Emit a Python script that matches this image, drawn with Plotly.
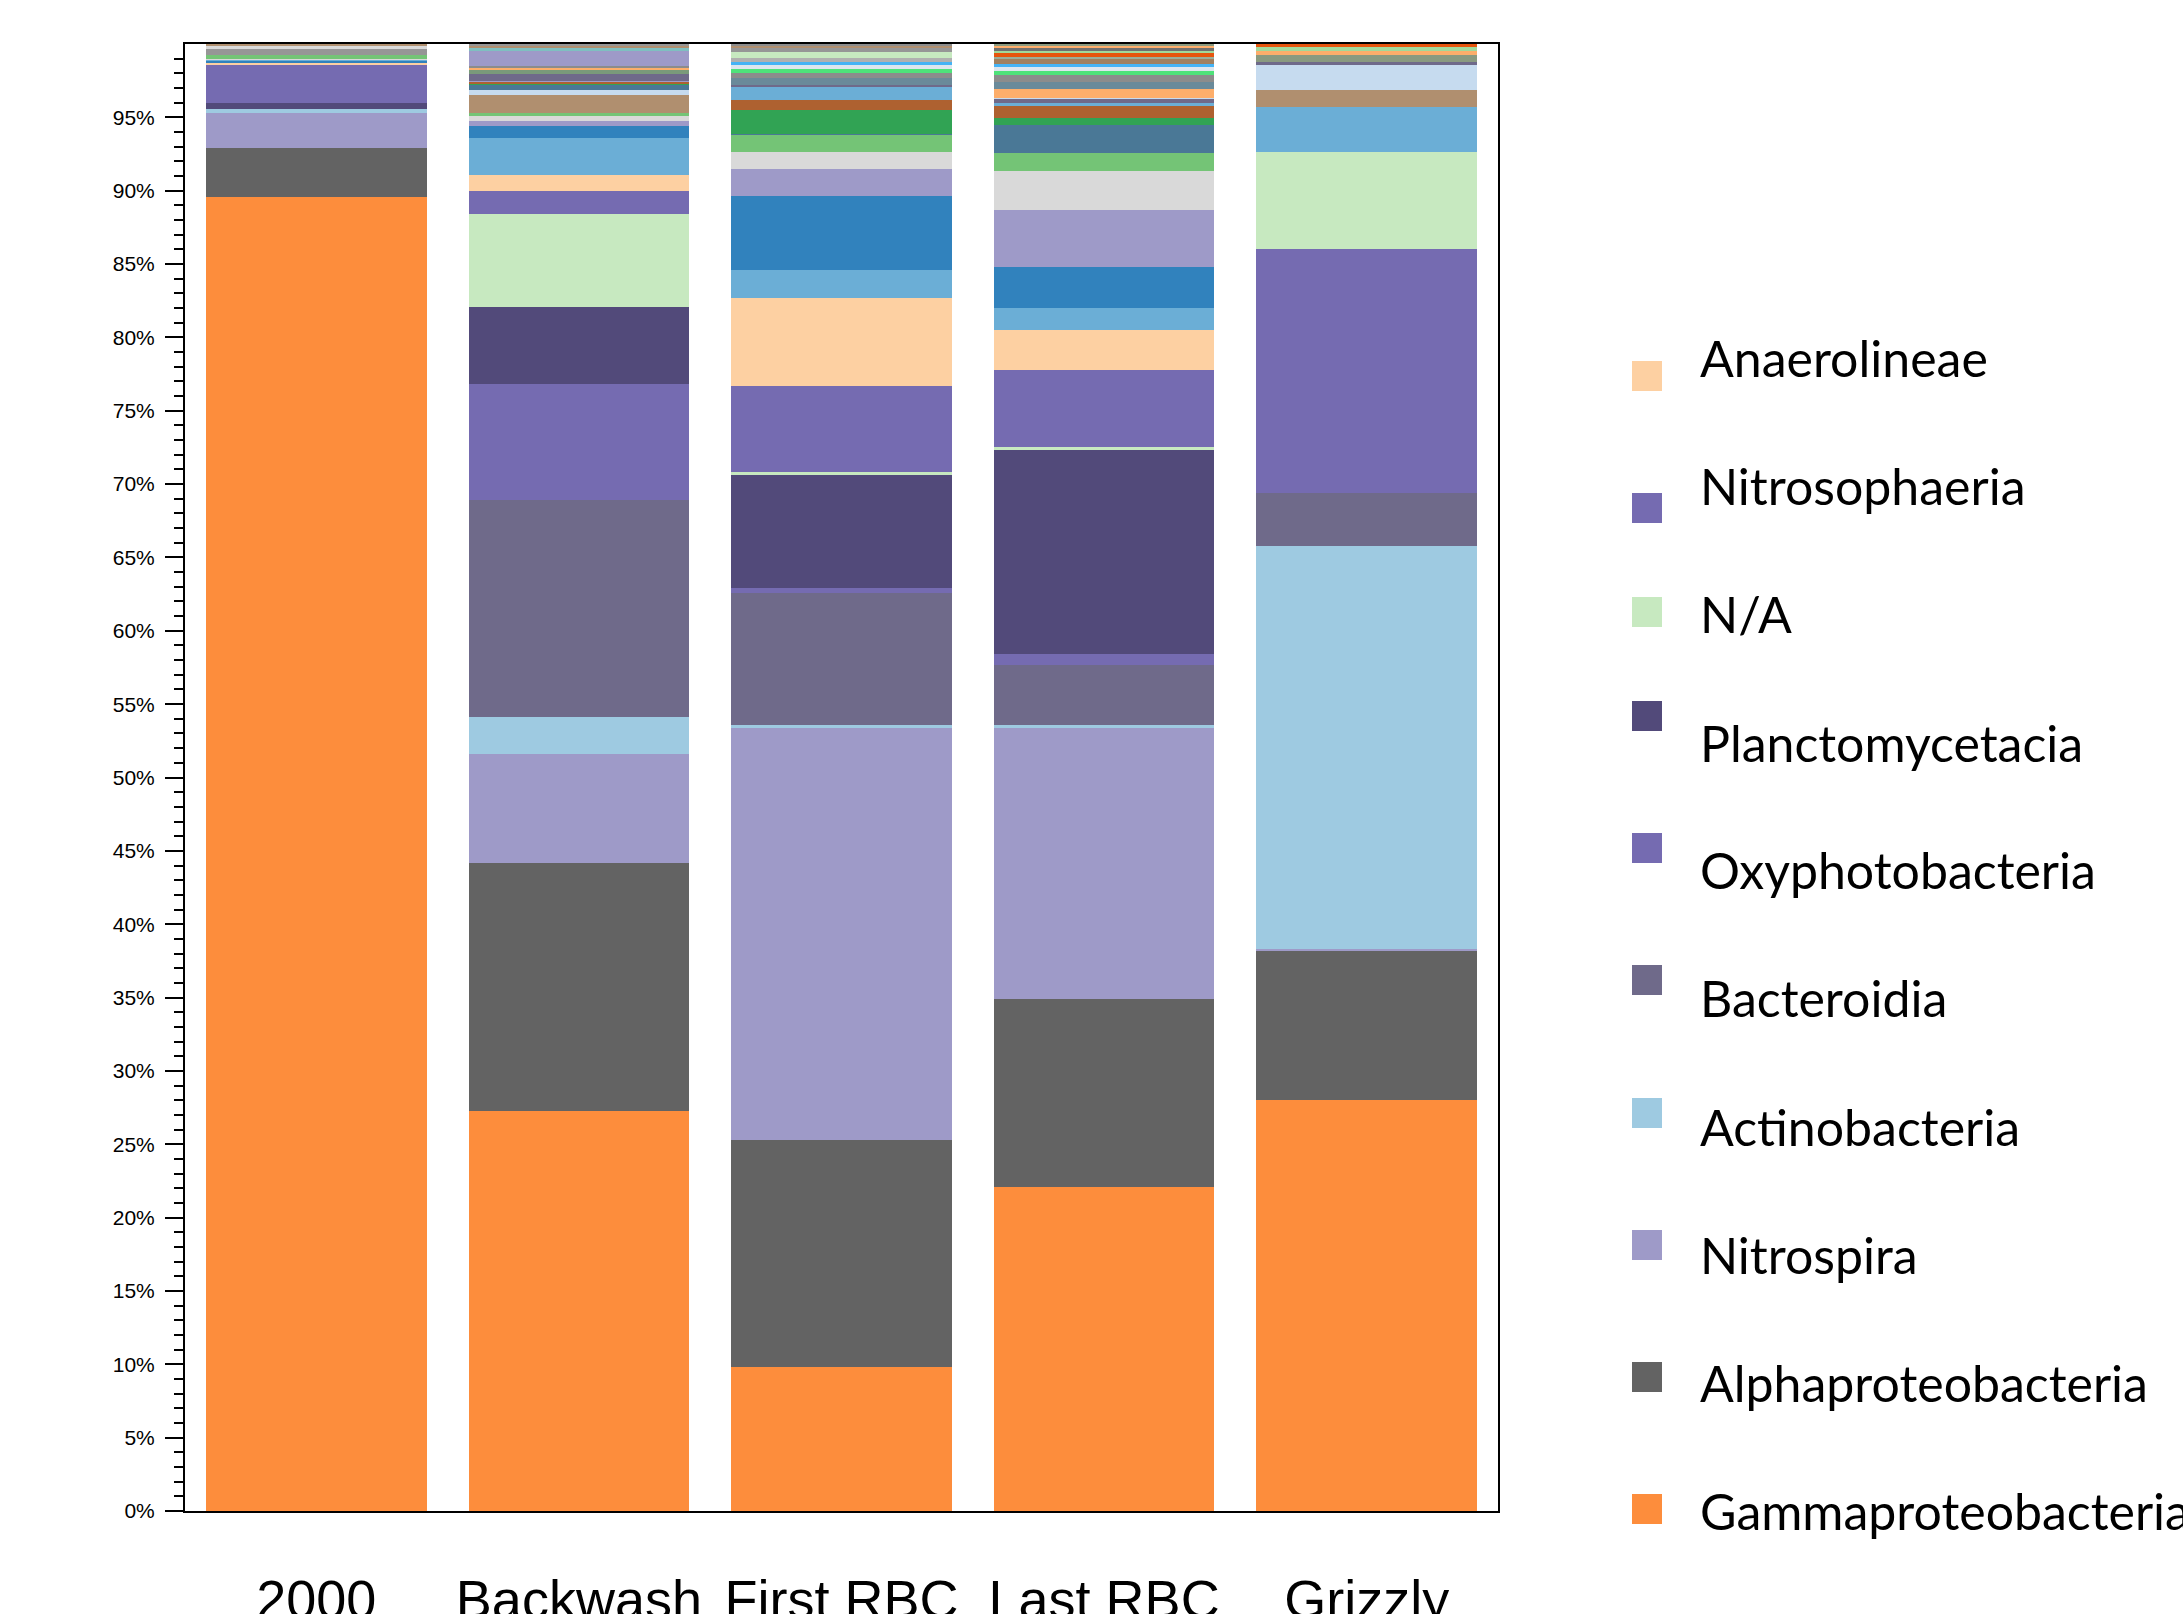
import plotly.graph_objects as go

# Samples along the x axis
samples = ["2000", "Backwash", "First RBC", "Last RBC", "Grizzly"]

# Relative abundance (%) of the main classes, stacked bottom to top
gammaproteobacteria = [89.6, 27.3, 9.8, 22.1, 28.0]
alphaproteobacteria = [3.3, 16.9, 15.5, 12.8, 10.2]
nitrospira = [2.4, 7.4, 28.1, 18.5, 0.1]
actinobacteria = [0.3, 2.5, 0.2, 0.2, 27.5]
bacteroidia = [0.0, 14.8, 9.0, 4.1, 3.6]
oxyphotobacteria = [0.0, 7.9, 0.3, 0.7, 16.65]
planctomycetacia = [0.4, 5.3, 7.7, 13.9, 0.0]
not_assigned = [0.0, 6.3, 0.2, 0.2, 6.6]
nitrosophaeria = [2.55, 1.6, 5.9, 5.3, 0.0]
anaerolineae = [0.16, 1.05, 6.0, 2.7, 0.0]

class_names = ["Gammaproteobacteria", "Alphaproteobacteria", "Nitrospira",
               "Actinobacteria", "Bacteroidia", "Oxyphotobacteria",
               "Planctomycetacia", "N/A", "Nitrosophaeria", "Anaerolineae"]
class_values = [gammaproteobacteria, alphaproteobacteria, nitrospira,
                actinobacteria, bacteroidia, oxyphotobacteria,
                planctomycetacia, not_assigned, nitrosophaeria, anaerolineae]
class_colors = ["#FD8D3C", "#636363", "#9E9AC8", "#9ECAE1", "#6F6A8A",
                "#756BB1", "#524A7A", "#C7E9C0", "#756BB1", "#FDD0A2"]

# Minor classes in each sample (%), stacked above the main classes
minor_2000 = [0.14, 0.09, 0.06, 0.23, 0.46, 0.15, 0.16]
minor_backwash = [2.54, 0.84, 0.32, 0.34, 0.18, 1.28, 0.29, 0.36, 0.14, 0.09,
                  0.07, 0.48, 0.25, 0.05, 0.08, 0.14, 1.0, 0.21, 0.22, 0.07]
minor_first_rbc = [1.9, 5.04, 1.82, 1.2, 1.14, 0.07, 1.63, 0.68, 0.91, 0.14,
                   0.43, 0.39, 0.25, 0.29, 0.2, 0.27, 0.41, 0.23, 0.15, 0.14]
minor_last_rbc = [1.5, 2.8, 3.88, 2.64, 1.23, 1.95, 0.46, 0.81, 0.18, 0.32,
                  0.05, 0.61, 0.48, 0.48, 0.29, 0.23, 0.23, 0.36, 0.14, 0.27,
                  0.14, 0.16, 0.15, 0.14]
minor_grizzly = [3.05, 1.14, 1.75, 0.2, 0.46, 0.25, 0.32, 0.18]

minor_2000_colors = ["#3182BD", "#6BAED6", "#D9D9D9", "#74C476", "#969696",
                     "#D9D9D9", "#B09070"]
minor_backwash_colors = ["#6BAED6", "#3182BD", "#9E9AC8", "#D9D9D9", "#74C476",
                         "#B08F6F", "#C6DBEF", "#4A7896", "#31A354", "#AE6130",
                         "#9E9AC8", "#6F6A8A", "#7A9A7A", "#969696", "#FDAE6B",
                         "#8C8C8C", "#9E9AC8", "#7FBFC0", "#B08F6F", "#969696"]
minor_first_rbc_colors = ["#6BAED6", "#3182BD", "#9E9AC8", "#D9D9D9", "#74C476",
                          "#4A7896", "#31A354", "#AE6130", "#6BAED6", "#6F6A8A",
                          "#6A8A9A", "#8C8C8C", "#4FE27A", "#DDE6EE", "#45B3F5",
                          "#B0B0B0", "#C7E9C0", "#969696", "#B08F6F", "#8C8C8C"]
minor_last_rbc_colors = ["#6BAED6", "#3182BD", "#9E9AC8", "#D9D9D9", "#74C476",
                         "#4A7896", "#31A354", "#AE6130", "#6BAED6", "#6F6A8A",
                         "#C6DBEF", "#FDAE6B", "#6A8A9A", "#8C8C8C", "#4FE27A",
                         "#DDE6EE", "#45B3F5", "#A08060", "#9AAE9A", "#E6550D",
                         "#A1D99B", "#707070", "#FDAE6B", "#8A9A80"]
minor_grizzly_colors = ["#6BAED6", "#B08F6F", "#C6DBEF", "#6F6A8A", "#8A9A80",
                        "#FDAE6B", "#A1D99B", "#E6550D"]

minor_values = [minor_2000, minor_backwash, minor_first_rbc, minor_last_rbc, minor_grizzly]
minor_colors = [minor_2000_colors, minor_backwash_colors, minor_first_rbc_colors,
                minor_last_rbc_colors, minor_grizzly_colors]

# Legend entries, top to bottom
legend_names = class_names[::-1]
legend_colors = class_colors[::-1]

fig = go.Figure()

for name, vals, col in zip(class_names, class_values, class_colors):
    fig.add_trace(go.Bar(x=samples, y=vals, name=name, marker_color=col,
                         marker_line_width=0, showlegend=False))

for i, (vals, cols) in enumerate(zip(minor_values, minor_colors)):
    for k, (v, c) in enumerate(zip(vals, cols)):
        y = [None] * len(samples)
        y[i] = v
        fig.add_trace(go.Bar(x=samples, y=y, name=f"{samples[i]} minor {k + 1}",
                             marker_color=c, marker_line_width=0,
                             showlegend=False))

# Plot-area geometry in pixels, used to place the hand-built legend
W, H = 2183, 1614
L, R, T, B = 185, 685, 44, 103
pw, ph = W - L - R, H - T - B


def px_x(x):
    return (x - L) / pw


def px_y(y):
    return (H - B - y) / ph


square_centres = [376, 508, 612, 716, 848, 980, 1113, 1245, 1377, 1509]
text_baselines = [376 + 128 * i for i in range(len(legend_names))]
legend_font = 50

shapes = []
annotations = []
for name, col, sc, tb in zip(legend_names, legend_colors, square_centres, text_baselines):
    shapes.append(dict(type="rect", xref="paper", yref="paper",
                       x0=px_x(1632), x1=px_x(1662),
                       y0=px_y(sc + 15), y1=px_y(sc - 15),
                       fillcolor=col, line_width=0, layer="above"))
    annotations.append(dict(text=name, xref="paper", yref="paper",
                            x=px_x(1698), y=px_y(tb - 0.35 * legend_font),
                            xanchor="left", yanchor="middle", showarrow=False,
                            font=dict(family="Lato", size=legend_font, color="black")))

fig.update_layout(
    width=W, height=H, autosize=False,
    margin=dict(l=L, r=R, t=T, b=B, pad=0, autoexpand=False),
    barmode="stack", bargap=0.16,
    plot_bgcolor="white", paper_bgcolor="white",
    showlegend=False,
    shapes=shapes, annotations=annotations,
)

fig.update_xaxes(
    range=[-0.5, 4.5], showgrid=False, zeroline=False, automargin=False,
    showline=True, linecolor="black", linewidth=2, mirror=True,
    ticks="", tickangle=0, ticklabelstandoff=40,
    tickfont=dict(family="Liberation Sans, Arial", size=54, color="black"),
)

major = list(range(0, 100, 5))
fig.update_yaxes(
    range=[0, 100], showgrid=False, zeroline=False, automargin=False,
    showline=True, linecolor="black", linewidth=2, mirror=True,
    tickmode="array", tickvals=major, ticktext=[f"{v}%" for v in major],
    ticks="outside", ticklen=18, tickwidth=2, tickcolor="black",
    ticklabelstandoff=6,
    tickfont=dict(family="Liberation Sans, Arial", size=21, color="black"),
    minor=dict(tickmode="array", tickvals=[v for v in range(1, 100) if v % 5],
               ticks="outside", ticklen=9, tickwidth=1.5, tickcolor="black"),
)

fig.write_html("out.html")
